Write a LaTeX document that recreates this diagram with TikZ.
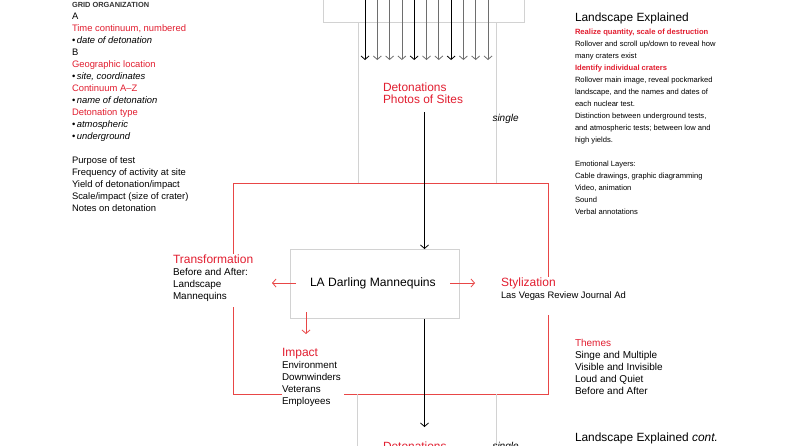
\documentclass[tikz,border=0pt]{standalone}
\usepackage{fontspec}
\setmainfont{Liberation Sans}
\usetikzlibrary{arrows.meta}
\definecolor{myred}{RGB}{226,30,48}
\definecolor{linered}{RGB}{232,70,70}
\definecolor{lgray}{RGB}{210,210,210}
\definecolor{agray}{RGB}{110,110,110}
\tikzset{
  txt/.style={anchor=base west, inner sep=0pt, outer sep=0pt, text=black},
  body/.style={txt, font=\fontsize{9.4}{12}\selectfont},
  small/.style={txt, font=\fontsize{7.6}{12}\selectfont},
  smallred/.style={txt, text=myred, font=\fontsize{7.6}{12}\selectfont\bfseries},
  head/.style={txt, text=myred, font=\fontsize{12}{14}\selectfont},
  bigblack/.style={txt, font=\fontsize{11.9}{14}\selectfont},
  redtxt/.style={body, text=myred},
  grayline/.style={draw=lgray, line width=0.8pt},
  redline/.style={draw=linered, line width=0.8pt},
  barb/.style={-{Straight Barb[length=3.5pt,width=8pt]}},
}
\begin{document}
\begin{tikzpicture}[x=1pt,y=-1pt]
\useasboundingbox[fill=white] (0,0) rectangle (792,445);

% ---------- top box and column ----------
\node[grayline, draw, minimum width=201pt, minimum height=30pt, inner sep=0pt, anchor=south west] (topbox) at (323,23) {};
\draw[grayline] (358,23) -- (358,183);
\draw[grayline] (496,23) -- (496,183);

\foreach \i/\c in {0/black,1/agray,2/agray,3/agray,4/black,5/agray,6/agray,7/black,8/agray,9/agray,10/agray}{
  \coordinate (s\i) at (365+12.3*\i,-2);
  \coordinate (e\i) at (365+12.3*\i,60);
  \draw[barb, draw=\c, line width=0.8pt] (s\i) -- (e\i);
}

\node[head, font=\fontsize{11.9}{14}\selectfont] (det1) at (383,91) {Detonations};
\node[head, font=\fontsize{11.9}{14}\selectfont] (det2) at (383,103) {Photos of Sites};
\node[txt, font=\fontsize{10}{12}\selectfont\itshape] (single1) at (492.5,121) {single};

% ---------- red frame ----------
\coordinate (rtl) at (233,183);
\coordinate (rtr) at (548,183);
\coordinate (rbl) at (233,394);
\coordinate (rbr) at (548,394);
\draw[redline] (233,254) -- (rtl) -- (rtr) -- (548,277);
\draw[redline] (548,315) -- (rbr) -- (344,394);
\draw[redline] (282,394) -- (rbl) -- (233,306.5);

% ---------- center box ----------
\node[grayline, draw, minimum width=169pt, minimum height=69pt, inner sep=0pt, anchor=north west] (ladbox) at (289.5,249) {};
\node[txt, font=\fontsize{12.1}{14}\selectfont] (lad) at (310,286.5) {LA Darling Mannequins};
\coordinate (detbot) at (424.5,112);
\draw[barb, line width=0.8pt] (detbot) -- (ladbox.north -| detbot);
\coordinate (arrbot) at (424.5,427);
\draw[barb, line width=0.8pt] (ladbox.south -| arrbot) -- (arrbot);

% red arrows
\coordinate (la1) at (296,283);
\coordinate (la2) at (272,283);
\coordinate (ra1) at (450,283);
\coordinate (ra2) at (475,283);
\coordinate (da1) at (306,312);
\coordinate (da2) at (306,334);
\draw[barb, draw=linered, line width=0.8pt] (la1) -- (la2);
\draw[barb, draw=linered, line width=0.8pt] (ra1) -- (ra2);
\draw[barb, draw=linered, line width=0.8pt] (da1) -- (da2);

% ---------- Transformation ----------
\node[head] (trans) at (173,263) {Transformation};
\node[body, font=\fontsize{9.9}{12}\selectfont] (tr1) at (173,275) {Before and After:};
\node[body, font=\fontsize{9.9}{12}\selectfont] (tr2) at (173,287) {Landscape};
\node[body, font=\fontsize{9.9}{12}\selectfont] (tr3) at (173,299) {Mannequins};

% ---------- Stylization ----------
\node[head] (styl) at (501,286) {Stylization};
\node[body] (st1) at (501,298) {Las Vegas Review Journal Ad};

% ---------- Impact ----------
\node[head] (imp) at (282,356) {Impact};
\node[body, font=\fontsize{9.8}{12}\selectfont] (im1) at (282,368) {Environment};
\node[body, font=\fontsize{9.8}{12}\selectfont] (im2) at (282,380) {Downwinders};
\node[body, font=\fontsize{9.8}{12}\selectfont] (im3) at (282,392) {Veterans};
\node[body, font=\fontsize{9.8}{12}\selectfont] (im4) at (282,404) {Employees};

% ---------- lower column ----------
\draw[grayline] (357,394) -- (357,446);
\draw[grayline] (496,394) -- (496,446);
\node[head, font=\fontsize{11.9}{14}\selectfont] (det3) at (383,450.5) {Detonations};
\node[txt, font=\fontsize{10}{12}\selectfont\itshape] (single2) at (492.5,449) {single};

% ---------- left column ----------
\node[txt, font=\fontsize{7.4}{12}\selectfont\bfseries, text=black!80] (g0) at (72,7.5) {GRID ORGANIZATION};
\node[body] (g1) at (72,19) {A};
\node[redtxt] (g2) at (72,31) {Time continuum, numbered};
\node[body] (g3) at (72,43) {\textbullet\,\textit{date of detonation}};
\node[body] (g4) at (72,55) {B};
\node[redtxt] (g5) at (72,67) {Geographic location};
\node[body] (g6) at (72,79) {\textbullet\,\textit{site, coordinates}};
\node[redtxt] (g7) at (72,91) {Continuum A–Z};
\node[body] (g8) at (72,103) {\textbullet\,\textit{name of detonation}};
\node[redtxt] (g9) at (72,115) {Detonation type};
\node[body] (g10) at (72,127) {\textbullet\,\textit{atmospheric}};
\node[body] (g11) at (72,139) {\textbullet\,\textit{underground}};
\node[body] (g12) at (72,163) {Purpose of test};
\node[body] (g13) at (72,175) {Frequency of activity at site};
\node[body] (g14) at (72,187) {Yield of detonation/impact};
\node[body] (g15) at (72,199) {Scale/impact (size of crater)};
\node[body] (g16) at (72,211) {Notes on detonation};

% ---------- right column ----------
\node[bigblack] (r0) at (575,21.5) {Landscape Explained};
\node[smallred] (r1) at (575,34) {Realize quantity, scale of destruction};
\node[small] (r2) at (575,46) {Rollover and scroll up/down to reveal how};
\node[small] (r3) at (575,58) {many craters exist};
\node[smallred] (r4) at (575,70) {Identify individual craters};
\node[small] (r5) at (575,82) {Rollover main image, reveal pockmarked};
\node[small] (r6) at (575,94) {landscape, and the names and dates of};
\node[small] (r7) at (575,106) {each nuclear test.};
\node[small] (r8) at (575,118) {Distinction between underground tests,};
\node[small] (r9) at (575,130) {and atmospheric tests; between low and};
\node[small] (r10) at (575,142) {high yields.};
\node[small] (r11) at (575,166) {Emotional Layers:};
\node[small] (r12) at (575,178) {Cable drawings, graphic diagramming};
\node[small] (r13) at (575,190) {Video, animation};
\node[small] (r14) at (575,202) {Sound};
\node[small] (r15) at (575,214) {Verbal annotations};

% ---------- Themes ----------
\node[redtxt, font=\fontsize{10}{12}\selectfont] (th0) at (575,346) {Themes};
\node[body, font=\fontsize{10}{12}\selectfont] (th1) at (575,358) {Singe and Multiple};
\node[body, font=\fontsize{10}{12}\selectfont] (th2) at (575,370) {Visible and Invisible};
\node[body, font=\fontsize{10}{12}\selectfont] (th3) at (575,382) {Loud and Quiet};
\node[body, font=\fontsize{10}{12}\selectfont] (th4) at (575,394) {Before and After};
\node[bigblack] (le2) at (575,441.5) {Landscape Explained \textit{cont.}};
\end{tikzpicture}
\end{document}
